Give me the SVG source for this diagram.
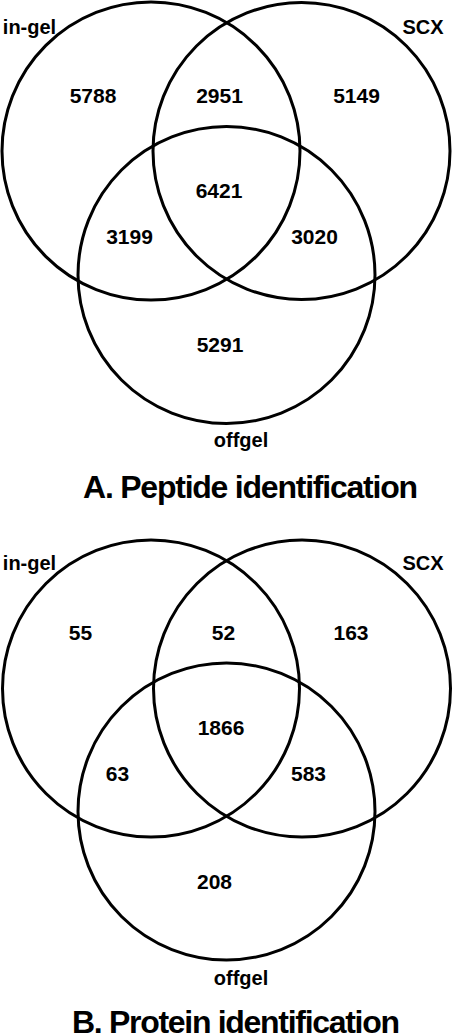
<svg xmlns="http://www.w3.org/2000/svg" width="455" height="1035" viewBox="0 0 455 1035">
<style>
.c{fill:none;stroke:#000;stroke-width:3}
.n{font-family:"Liberation Sans",Arial,sans-serif;font-weight:bold;font-size:21px;text-anchor:middle;fill:#000}
.l{font-family:"Liberation Sans",Arial,sans-serif;font-weight:bold;font-size:20px;text-anchor:middle;fill:#000}
.t{font-family:"Liberation Sans",Arial,sans-serif;font-weight:bold;font-size:32px;text-anchor:middle;fill:#000}
</style>
<rect width="455" height="1035" fill="#fff"/>
<g id="venn-peptide">
  <circle id="A-ingel" class="c" cx="151" cy="151" r="149"/>
  <circle id="A-scx" class="c" cx="301.5" cy="151" r="148.5"/>
  <circle id="A-offgel" class="c" cx="226.5" cy="275" r="148.5"/>
  <text class="l" x="29.5" y="34">in-gel</text>
  <text class="l" x="423" y="34">SCX</text>
  <text class="l" x="241" y="447">offgel</text>
  <text class="n" x="93" y="103">5788</text>
  <text class="n" x="219.5" y="103">2951</text>
  <text class="n" x="356.5" y="103">5149</text>
  <text class="n" x="219" y="198">6421</text>
  <text class="n" x="129.5" y="244">3199</text>
  <text class="n" x="314.5" y="244">3020</text>
  <text class="n" x="220" y="352">5291</text>
  <text class="t" x="250.5" y="498" textLength="335" lengthAdjust="spacing">A. Peptide identification</text>
</g>
<g id="venn-protein">
  <circle id="B-ingel" class="c" cx="151" cy="688.5" r="148.5"/>
  <circle id="B-scx" class="c" cx="302" cy="688.5" r="148.5"/>
  <circle id="B-offgel" class="c" cx="226.5" cy="811.5" r="148.5"/>
  <text class="l" x="29.5" y="570">in-gel</text>
  <text class="l" x="423" y="570">SCX</text>
  <text class="l" x="241" y="985">offgel</text>
  <text class="n" x="80.5" y="640">55</text>
  <text class="n" x="223.5" y="640">52</text>
  <text class="n" x="351" y="640">163</text>
  <text class="n" x="221" y="735">1866</text>
  <text class="n" x="117.5" y="781">63</text>
  <text class="n" x="308.5" y="781">583</text>
  <text class="n" x="214.5" y="889">208</text>
  <text class="t" x="236" y="1033" textLength="328" lengthAdjust="spacing">B. Protein identification</text>
</g>
<g id="connectors"></g>
</svg>
